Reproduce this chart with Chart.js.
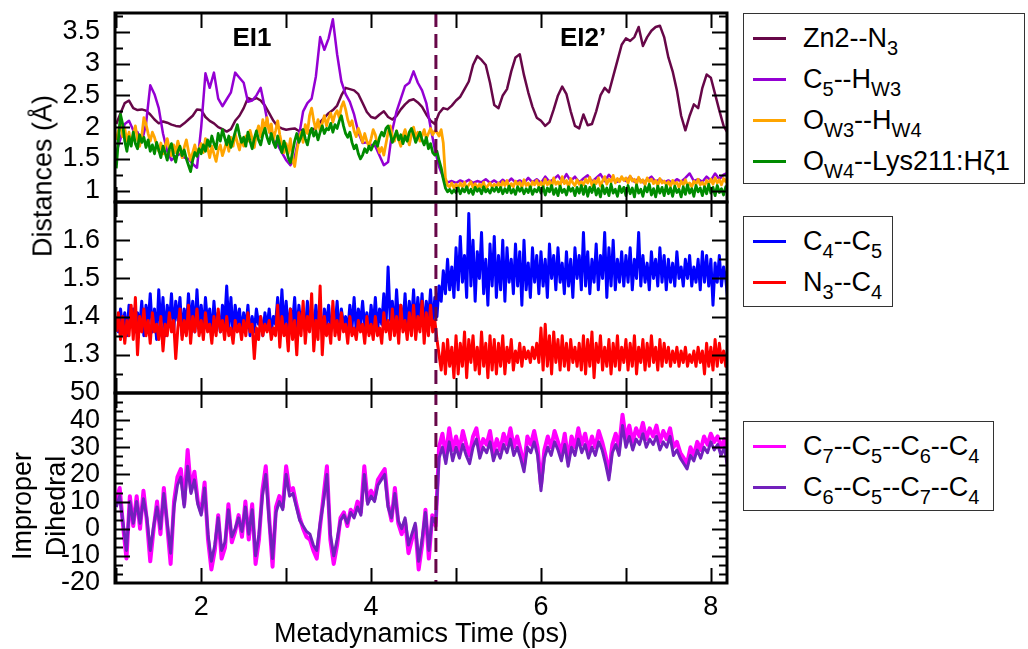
<!DOCTYPE html>
<html>
<head>
<meta charset="utf-8">
<script src="https://cdn.jsdelivr.net/npm/chart.js@4.4.1/dist/chart.umd.min.js"></script>
<style>
  body { margin: 0; background: #fff; }
  #wrap { position: relative; width: 1028px; height: 649px; font-family: "Liberation Sans", Arial, sans-serif; color: #000; overflow: hidden; }
  canvas { position: absolute; left: 0; top: 0; }
  .lbl { position: absolute; white-space: nowrap; font-size: 27px; line-height: 27px; transform: translate(-50%, -50%); }
  .rot { transform: translate(-50%, -50%) rotate(-90deg); }
  .tag { font-weight: bold; font-size: 26px; }
  .legend { position: absolute; left: 743px; border: 1.5px solid #333; box-sizing: border-box; background: #fff; }
  .row { position: absolute; left: 9px; height: 27px; display: flex; align-items: center; white-space: nowrap; }
  .swatch { width: 33px; height: 3px; margin-right: 17px; }
  .txt { font-size: 27px; line-height: 27px; height: 27px; }
  .txt sub { font-size: 20px; line-height: 0; vertical-align: -8px; }
</style>
</head>
<body>
<div id="wrap">
  <canvas id="dist" width="1028" height="649"></canvas>
  <canvas id="bond" width="1028" height="649"></canvas>
  <canvas id="dihedral" width="1028" height="649"></canvas>
  <div class="lbl tag" style="left:252px;top:37px">EI1</div>
  <div class="lbl tag" style="left:583px;top:37px">EI2’</div>
  <div class="lbl rot" style="left:43px;top:176px">Distances (Å)</div>
  <div class="lbl rot" style="left:22px;top:506px">Improper</div>
  <div class="lbl rot" style="left:56px;top:506px">Dihedral</div>
  <div class="lbl" style="left:421px;top:633px">Metadynamics Time (ps)</div>
  <div id="leg1" class="legend" style="top:13px;width:282px;height:171px"></div>
  <div id="leg2" class="legend" style="top:216px;width:150px;height:91px"></div>
  <div id="leg3" class="legend" style="top:421px;width:251px;height:90px"></div>
</div>
<script>
// time axis
const timeMin = 0.985, timeMax = 8.19;
const timeLabels = [2, 4, 6, 8];
const timeMarks = [1, 2, 3, 4, 5, 6, 7, 8];
const transitionTime = 4.763;

// tick values per panel
const distTicks = [1, 1.5, 2, 2.5, 3, 3.5];
const distMinor = [1.25, 1.75, 2.25, 2.75, 3.25, 3.75];
const bondTicks = [1.3, 1.4, 1.5, 1.6];
const bondMinor = [1.25, 1.35, 1.45, 1.55, 1.65];
const dihedralTicks = [-20, -10, 0, 10, 20, 30, 40, 50];

// legend text
const distNames = ['Zn2--N<sub>3</sub>', 'C<sub>5</sub>--H<sub>W3</sub>', 'O<sub>W3</sub>--H<sub>W4</sub>', 'O<sub>W4</sub>--Lys211:Hζ1'];
const bondNames = ['C<sub>4</sub>--C<sub>5</sub>', 'N<sub>3</sub>--C<sub>4</sub>'];
const dihedralNames = ['C<sub>7</sub>--C<sub>5</sub>--C<sub>6</sub>--C<sub>4</sub>', 'C<sub>6</sub>--C<sub>5</sub>--C<sub>7</sub>--C<sub>4</sub>'];

const distColors = ['#670748', '#9400d3', '#ffa500', '#008b00'];
const bondColors = ['#0000ff', '#ff0000'];
const dihedralColors = ['#ff00ff', '#7221bc'];

// Zn2--N3, every 0.05 ps from 1.0 ps
const zn2N3 = [
  2.05, 2.22, 2.38, 2.42, 2.30, 2.27, 2.28, 2.26, 2.20, 2.12,
  2.06, 2.09, 2.07, 2.04, 2.02, 2.01, 2.06, 2.12, 2.18, 2.28,
  2.27, 2.16, 2.10, 2.06, 2.00, 1.97, 1.93, 1.97, 2.10, 2.18,
  2.30, 2.46, 2.43, 2.46, 2.42, 2.34, 2.22, 2.10, 2.01, 1.98,
  1.96, 1.97, 1.98, 1.94, 1.96, 1.95, 1.94, 2.00, 2.08, 2.15,
  2.22, 2.27, 2.34, 2.50, 2.62, 2.60, 2.58, 2.52, 2.38, 2.24,
  2.16, 2.14, 2.20, 2.25, 2.16, 2.12, 2.18, 2.28, 2.36, 2.42,
  2.44, 2.39, 2.32, 2.20, 2.10, 2.05, 2.22, 2.30, 2.28, 2.34,
  2.42, 2.48, 2.60, 2.72, 2.98, 3.12, 3.06, 2.98, 2.70, 2.35,
  2.30, 2.50, 2.60, 2.88, 3.10, 3.15, 2.82, 2.55, 2.32, 2.15,
  2.10, 2.02, 2.08, 2.28, 2.50, 2.64, 2.52, 2.25, 2.02, 1.98,
  2.20, 2.03, 2.05, 2.25, 2.50, 2.62, 2.55, 2.80, 3.05, 3.30,
  3.40, 3.36, 3.42, 3.58, 3.28, 3.42, 3.52, 3.58, 3.60, 3.42,
  3.10, 2.88, 2.58, 2.18, 1.95, 2.18, 2.36, 2.30, 2.62, 2.83,
  2.78, 2.52, 2.26, 2.02, 1.90
];

// C5--HW3, every 0.05 ps
const c5Hw3 = [
  1.60, 1.82, 2.05, 2.10, 1.95, 1.92, 1.76, 2.05, 2.66, 2.52,
  2.30, 1.90, 1.62, 1.48, 1.54, 1.58, 1.52, 1.50, 1.42, 1.36,
  2.00, 2.85, 2.62, 2.86, 2.45, 2.33, 2.44, 2.55, 2.86, 2.78,
  2.70, 2.40, 2.42, 2.50, 2.62, 2.30, 1.95, 1.80, 1.72, 1.60,
  1.48, 1.40, 1.52, 1.85, 2.25, 2.38, 2.45, 2.80, 3.42, 3.22,
  3.40, 3.70, 3.15, 2.72, 2.52, 2.40, 2.20, 1.92, 1.75, 1.76,
  1.72, 1.70, 1.55, 1.40, 1.45, 1.95, 2.25, 2.45, 2.65, 2.70,
  2.88, 2.70, 2.58, 2.38, 2.00, 1.65, 1.38, 1.20, 1.13, 1.15,
  1.12, 1.16, 1.13, 1.17, 1.12, 1.15, 1.13, 1.18, 1.12, 1.16,
  1.11, 1.17, 1.12, 1.19, 1.13, 1.16, 1.12, 1.20, 1.13, 1.18,
  1.12, 1.22, 1.14, 1.18, 1.24, 1.14, 1.26, 1.15, 1.22, 1.13,
  1.19, 1.24, 1.14, 1.20, 1.26, 1.15, 1.25, 1.17, 1.14, 1.20,
  1.15, 1.22, 1.14, 1.19, 1.13, 1.17, 1.22, 1.14, 1.18, 1.13,
  1.16, 1.12, 1.18, 1.14, 1.20, 1.27, 1.15, 1.18, 1.14, 1.22,
  1.16, 1.27, 1.18, 1.25, 1.28
];

// OW3--HW4, every 0.025 ps
const ow3Hw4 = [
  1.80, 1.95, 2.05, 1.85, 1.98, 1.78, 1.92, 1.72, 1.88, 2.02, 1.80, 1.70, 1.86, 2.15, 2.05, 1.90, 1.78, 1.92, 1.84, 1.72,
  1.62, 1.75, 1.58, 1.70, 1.82, 1.65, 1.55, 1.72, 1.60, 1.78, 1.66, 1.52, 1.68, 1.80, 1.62, 1.48, 1.60, 1.72, 1.56, 1.66,
  1.74, 1.60, 1.82, 1.68, 1.52, 1.70, 1.58, 1.46, 1.64, 1.72, 1.55, 1.66, 1.78, 1.62, 1.84, 1.70, 1.90, 1.76, 1.64, 1.82,
  1.70, 1.86, 1.78, 1.95, 1.82, 1.68, 1.90, 2.02, 1.85, 2.12, 1.96, 2.15, 1.92, 2.05, 1.80, 1.94, 2.10, 1.88, 1.72, 1.60,
  1.74, 1.58, 1.82, 1.50, 1.38, 1.62, 1.80, 1.92, 1.76, 2.04, 1.90, 2.18, 2.30, 2.10, 1.96, 2.12, 1.94, 2.06, 2.18, 2.02,
  2.14, 2.22, 2.08, 2.20, 2.26, 2.15, 2.32, 2.40, 2.28, 2.12, 2.02, 2.10, 1.94, 1.85, 1.98, 1.88, 1.76, 1.90, 1.78, 1.70,
  1.82, 1.96, 1.88, 1.72, 1.60, 1.68, 1.56, 1.74, 1.92, 2.02, 1.86, 1.78, 1.94, 1.80, 1.70, 1.86, 1.96, 1.84, 1.72, 1.88,
  2.00, 1.84, 1.92, 1.78, 1.86, 1.96, 1.82, 1.90, 1.98, 1.88, 1.94, 1.92, 1.86, 1.96, 1.75, 1.20, 1.08, 1.06, 1.12, 1.04,
  1.10, 1.04, 1.12, 1.06, 1.13, 1.03, 1.09, 1.14, 1.05, 1.11, 1.04, 1.10, 1.06, 1.13, 1.02, 1.08, 1.12, 1.05, 1.10, 1.07,
  1.12, 1.05, 1.14, 1.08, 1.16, 1.04, 1.11, 1.06, 1.15, 1.09, 1.13, 1.05, 1.17, 1.08, 1.12, 1.04, 1.14, 1.09, 1.16, 1.07,
  1.13, 1.06, 1.18, 1.09, 1.15, 1.05, 1.20, 1.10, 1.14, 1.07, 1.22, 1.11, 1.16, 1.06, 1.19, 1.12, 1.08, 1.17, 1.10, 1.14,
  1.09, 1.18, 1.12, 1.21, 1.08, 1.16, 1.11, 1.20, 1.07, 1.15, 1.22, 1.10, 1.18, 1.13, 1.24, 1.12, 1.19, 1.14, 1.22, 1.16,
  1.20, 1.12, 1.23, 1.15, 1.18, 1.10, 1.21, 1.13, 1.17, 1.09, 1.20, 1.14, 1.18, 1.11, 1.16, 1.08, 1.19, 1.12, 1.15, 1.09,
  1.14, 1.07, 1.16, 1.10, 1.13, 1.05, 1.15, 1.09, 1.17, 1.08, 1.12, 1.06, 1.15, 1.10, 1.18, 1.09, 1.13, 1.07, 1.16, 1.11,
  1.18, 1.10, 1.20, 1.12, 1.17, 1.09, 1.19, 1.14, 1.21
];

// OW4--Lys211:Hz1, every 0.025 ps
const ow4Lys = [
  1.35, 1.80, 2.20, 2.05, 1.78, 1.62, 1.85, 1.70, 1.92, 1.74, 1.66, 1.88, 1.76, 1.84, 1.68, 1.80, 1.62, 1.72, 1.58, 1.76,
  1.64, 1.52, 1.70, 1.60, 1.48, 1.66, 1.74, 1.56, 1.45, 1.62, 1.70, 1.55, 1.64, 1.50, 1.40, 1.30, 1.48, 1.60, 1.54, 1.66,
  1.58, 1.72, 1.62, 1.80, 1.70, 1.86, 1.74, 1.66, 1.90, 1.78, 1.96, 1.84, 1.72, 1.86, 1.68, 1.80, 1.92, 2.04, 1.88, 1.76,
  1.84, 1.70, 1.92, 1.78, 1.66, 1.82, 1.94, 1.80, 1.72, 1.88, 1.98, 1.84, 1.74, 1.90, 1.76, 1.68, 1.86, 1.72, 1.60, 1.78,
  1.66, 1.52, 1.44, 1.60, 1.78, 1.90, 1.76, 1.84, 1.96, 1.82, 1.72, 1.88, 1.98, 1.86, 1.94, 1.80, 1.92, 2.02, 1.90, 1.98,
  1.96, 2.06, 1.92, 2.04, 1.98, 2.10, 2.18, 2.02, 1.90, 1.84, 1.92, 1.76, 1.66, 1.72, 1.58, 1.50, 1.56, 1.66, 1.60, 1.70,
  1.64, 1.72, 1.78, 1.70, 1.84, 1.92, 1.86, 1.98, 2.02, 1.90, 1.76, 1.84, 1.94, 1.80, 1.88, 1.74, 1.86, 1.78, 1.92, 1.98,
  1.88, 1.76, 1.84, 1.92, 1.80, 1.72, 1.84, 1.66, 1.74, 1.60, 1.56, 1.62, 1.48, 1.36, 1.18, 1.04, 0.98, 1.02, 0.96, 1.01,
  0.97, 1.04, 0.95, 1.03, 0.98, 1.06, 0.96, 1.02, 0.94, 1.05, 0.99, 1.03, 0.95, 1.06, 0.98, 1.02, 0.96, 1.04, 0.99, 1.05,
  0.98, 1.05, 0.95, 1.03, 0.97, 1.07, 0.96, 1.02, 0.94, 1.06, 0.99, 1.04, 0.95, 1.03, 0.97, 1.06, 0.94, 1.02, 0.98, 1.05,
  0.96, 1.06, 0.93, 1.04, 0.98, 1.08, 0.94, 1.03, 0.92, 1.07, 0.97, 1.02, 0.93, 1.06, 0.99, 1.04, 0.92, 1.05, 0.96, 1.08,
  0.94, 1.07, 0.91, 1.05, 0.97, 1.09, 0.93, 1.03, 0.90, 1.08, 0.95, 1.04, 0.92, 1.10, 0.96, 1.02, 0.91, 1.07, 0.97, 1.05,
  0.92, 1.08, 0.95, 1.04, 0.90, 1.09, 0.96, 1.02, 0.91, 1.06, 0.98, 1.10, 0.93, 1.03, 0.90, 1.07, 0.96, 1.05, 0.92, 1.08,
  0.95, 1.04, 0.91, 1.07, 0.97, 1.02, 0.90, 1.06, 0.94, 1.09, 0.96, 1.03, 0.91, 1.08, 0.98, 1.04, 0.92, 1.06, 0.95, 1.10,
  0.96, 1.05, 0.92, 1.08, 0.97, 1.03, 0.93, 1.06, 1.00
];

// C4--C5 bond, every 0.025 ps
const c4C5 = [
  1.40, 1.36, 1.42, 1.37, 1.41, 1.35, 1.43, 1.38, 1.42, 1.36, 1.41, 1.37, 1.44, 1.35, 1.43, 1.38, 1.46, 1.36, 1.42, 1.34,
  1.47, 1.37, 1.45, 1.35, 1.43, 1.38, 1.46, 1.36, 1.44, 1.39, 1.45, 1.35, 1.42, 1.37, 1.46, 1.38, 1.44, 1.36, 1.47, 1.37,
  1.43, 1.36, 1.45, 1.38, 1.42, 1.35, 1.44, 1.37, 1.41, 1.36, 1.43, 1.38, 1.48, 1.37, 1.45, 1.35, 1.43, 1.38, 1.42, 1.36,
  1.41, 1.37, 1.43, 1.35, 1.40, 1.36, 1.42, 1.38, 1.40, 1.35, 1.41, 1.37, 1.42, 1.36, 1.40, 1.38, 1.45, 1.36, 1.47, 1.37,
  1.44, 1.36, 1.42, 1.38, 1.45, 1.35, 1.43, 1.37, 1.41, 1.36, 1.44, 1.38, 1.42, 1.35, 1.43, 1.37, 1.41, 1.36, 1.42, 1.38,
  1.43, 1.36, 1.41, 1.37, 1.44, 1.35, 1.42, 1.38, 1.40, 1.36, 1.43, 1.37, 1.45, 1.36, 1.42, 1.38, 1.44, 1.37, 1.41, 1.36,
  1.43, 1.37, 1.45, 1.36, 1.42, 1.38, 1.46, 1.37, 1.53, 1.39, 1.44, 1.36, 1.47, 1.38, 1.43, 1.37, 1.46, 1.36, 1.44, 1.38,
  1.47, 1.37, 1.45, 1.38, 1.46, 1.36, 1.44, 1.39, 1.47, 1.37, 1.45, 1.40, 1.48, 1.44, 1.52, 1.46, 1.55, 1.47, 1.53, 1.45,
  1.58, 1.47, 1.61, 1.49, 1.56, 1.45, 1.67, 1.48, 1.60, 1.44, 1.57, 1.50, 1.62, 1.46, 1.55, 1.43, 1.59, 1.48, 1.61, 1.45,
  1.56, 1.47, 1.60, 1.44, 1.58, 1.49, 1.55, 1.46, 1.59, 1.48, 1.57, 1.43, 1.60, 1.47, 1.54, 1.45, 1.58, 1.49, 1.56, 1.46,
  1.57, 1.48, 1.55, 1.45, 1.59, 1.50, 1.56, 1.47, 1.58, 1.49, 1.54, 1.46, 1.57, 1.48, 1.55, 1.45, 1.58, 1.50, 1.56, 1.47,
  1.62, 1.48, 1.57, 1.46, 1.55, 1.49, 1.59, 1.47, 1.56, 1.50, 1.62, 1.45, 1.58, 1.48, 1.60, 1.47, 1.55, 1.49, 1.57, 1.48,
  1.56, 1.49, 1.58, 1.47, 1.55, 1.50, 1.62, 1.48, 1.56, 1.49, 1.54, 1.47, 1.57, 1.50, 1.55, 1.48, 1.58, 1.49, 1.56, 1.47,
  1.55, 1.49, 1.54, 1.48, 1.57, 1.50, 1.53, 1.48, 1.55, 1.50, 1.56, 1.48, 1.53, 1.49, 1.55, 1.47, 1.57, 1.49, 1.56, 1.48,
  1.55, 1.43, 1.54, 1.49, 1.56, 1.48, 1.53, 1.50, 1.44
];

// N3--C4 bond, every 0.025 ps
const n3C4 = [
  1.36, 1.41, 1.34, 1.40, 1.33, 1.39, 1.35, 1.43, 1.34, 1.45, 1.30, 1.40, 1.36, 1.42, 1.35, 1.39, 1.33, 1.41, 1.36, 1.38,
  1.34, 1.40, 1.31, 1.38, 1.35, 1.41, 1.36, 1.39, 1.29, 1.37, 1.42, 1.34, 1.39, 1.35, 1.43, 1.33, 1.40, 1.36, 1.42, 1.35,
  1.39, 1.34, 1.41, 1.36, 1.38, 1.33, 1.40, 1.35, 1.42, 1.36, 1.39, 1.34, 1.40, 1.35, 1.37, 1.33, 1.39, 1.36, 1.38, 1.34,
  1.39, 1.35, 1.41, 1.36, 1.38, 1.29, 1.37, 1.34, 1.40, 1.35, 1.38, 1.36, 1.39, 1.34, 1.37, 1.35, 1.43, 1.32, 1.40, 1.35,
  1.38, 1.31, 1.42, 1.34, 1.39, 1.30, 1.41, 1.35, 1.44, 1.33, 1.40, 1.36, 1.46, 1.31, 1.39, 1.34, 1.48, 1.30, 1.40, 1.35,
  1.38, 1.33, 1.44, 1.35, 1.39, 1.34, 1.41, 1.36, 1.38, 1.33, 1.40, 1.35, 1.37, 1.34, 1.39, 1.36, 1.38, 1.33, 1.40, 1.35,
  1.38, 1.34, 1.40, 1.35, 1.37, 1.33, 1.41, 1.36, 1.39, 1.34, 1.42, 1.35, 1.40, 1.33, 1.43, 1.36, 1.39, 1.34, 1.41, 1.35,
  1.43, 1.34, 1.40, 1.36, 1.44, 1.33, 1.41, 1.35, 1.43, 1.36, 1.39, 1.34, 1.30, 1.26, 1.33, 1.25, 1.34, 1.27, 1.32, 1.24,
  1.35, 1.25, 1.33, 1.27, 1.36, 1.24, 1.34, 1.28, 1.35, 1.26, 1.32, 1.25, 1.36, 1.27, 1.33, 1.24, 1.35, 1.26, 1.34, 1.25,
  1.33, 1.27, 1.35, 1.25, 1.32, 1.28, 1.34, 1.26, 1.31, 1.28, 1.33, 1.27, 1.32, 1.29, 1.31, 1.28, 1.32, 1.29, 1.33, 1.28,
  1.37, 1.26, 1.38, 1.27, 1.35, 1.25, 1.36, 1.28, 1.34, 1.26, 1.35, 1.27, 1.33, 1.26, 1.34, 1.28, 1.32, 1.27, 1.33, 1.26,
  1.35, 1.25, 1.34, 1.27, 1.36, 1.24, 1.33, 1.28, 1.35, 1.26, 1.32, 1.27, 1.34, 1.25, 1.33, 1.27, 1.35, 1.26, 1.32, 1.28,
  1.34, 1.26, 1.33, 1.27, 1.35, 1.25, 1.32, 1.28, 1.34, 1.26, 1.33, 1.27, 1.35, 1.28, 1.32, 1.26, 1.34, 1.27, 1.33, 1.28,
  1.32, 1.27, 1.31, 1.28, 1.32, 1.27, 1.31, 1.28, 1.32, 1.27, 1.30, 1.28, 1.31, 1.27, 1.32, 1.28, 1.31, 1.25, 1.33, 1.27,
  1.32, 1.26, 1.34, 1.27, 1.33, 1.28, 1.31, 1.27, 1.32
];

// improper dihedrals in degrees, every 0.04 ps
const dihC7C5C6C4 = [
  10, 15, 1, -11, 12, 1, 12, 0, 14, 3, -12, 0, 10, -2, 15, 1, -13, 10, 19, 22, 9, 29, 14, 21, 10,
  6, 17, -4, -15, -8, 5, -11, -7, 9, -5, -1, 5, -3, 10, -4, 9, -13, -4, 14, 23, 4, -14, 8, 12, 8,
  23, 14, 15, 9, 4, 0, -3, -4, -8, -11, 1, 12, 23, -4, -13, -6, 4, 6, 1, 7, 5, 10, 6, 23, 10,
  14, 11, 18, 20, 22, 9, 3, 15, 2, -2, 3, -9, -4, 1, -15, -6, 7, -11, 5, 1, 30, 35, 27, 37, 29,
  34, 29, 36, 31, 27, 34, 37, 29, 33, 31, 36, 28, 33, 29, 35, 31, 37, 30, 34, 29, 23, 34, 31, 36, 30,
  16, 29, 34, 30, 36, 32, 28, 35, 25, 34, 30, 37, 31, 35, 29, 34, 30, 36, 32, 27, 20, 31, 35, 30, 42,
  33, 38, 32, 37, 34, 39, 33, 37, 34, 38, 32, 36, 33, 37, 30, 32, 28, 26, 24, 30, 27, 32, 29, 34, 31,
  35, 32, 34, 30, 33, 24
];
const dihC6C5C7C4 = [
  8, 12, 2, -8, 10, 2, 10, 2, 11, 4, -8, 1, 8, 0, 13, 2, -9, 8, 16, 19, 8, 23, 13, 18, 9,
  5, 15, -2, -12, -6, 4, -8, -5, 7, -3, 0, 4, -1, 8, -2, 7, -10, -2, 12, 20, 3, -11, 6, 10, 7,
  20, 12, 13, 8, 3, 1, -1, -2, -6, -8, 2, 10, 20, -2, -10, -4, 3, 5, 2, 6, 4, 8, 5, 20, 9,
  12, 10, 16, 18, 20, 8, 4, 13, 3, 0, 4, -6, -2, 2, -12, -4, 6, -8, 4, 2, 26, 30, 24, 32, 25,
  30, 26, 31, 27, 24, 30, 33, 26, 30, 28, 32, 25, 29, 26, 31, 28, 33, 27, 30, 26, 21, 30, 28, 32, 27,
  14, 26, 30, 27, 32, 29, 25, 31, 23, 30, 27, 33, 28, 31, 26, 30, 27, 32, 29, 24, 18, 28, 31, 27, 38,
  30, 34, 29, 33, 31, 35, 30, 33, 31, 34, 29, 32, 30, 34, 27, 29, 26, 24, 22, 27, 25, 29, 26, 30, 28,
  32, 29, 31, 27, 30, 22
];

// pair each value with its time
function timed(values, dt) {
  return values.map((v, i) => ({ x: +(1 + i * dt).toFixed(3), y: v }));
}

const tickFont = { family: 'Liberation Sans', size: 27 };

// box frame, inward ticks and the dashed EI1/EI2' boundary
const framePlugin = {
  id: 'frame',
  afterDatasetsDraw(chart, args, opts) {
    const { ctx, chartArea: a } = chart;
    const xs = chart.scales.x, ys = chart.scales.y;
    ctx.save();
    const xb = xs.getPixelForValue(transitionTime);
    ctx.strokeStyle = '#670748';
    ctx.lineWidth = 3;
    ctx.setLineDash([14, 7]);
    ctx.lineDashOffset = a.top - 13;
    ctx.beginPath();
    ctx.moveTo(xb, a.top);
    ctx.lineTo(xb, a.bottom);
    ctx.stroke();
    ctx.setLineDash([]);

    ctx.strokeStyle = '#000';
    ctx.lineWidth = 2;
    const tick = (v, len) => {
      const y = Math.round(ys.getPixelForValue(v)) + 0.5;
      if (y < a.top + 2 || y > a.bottom - 2) return;
      ctx.beginPath();
      ctx.moveTo(a.left, y); ctx.lineTo(a.left + len, y);
      ctx.moveTo(a.right, y); ctx.lineTo(a.right - len, y);
      ctx.stroke();
    };
    opts.major.forEach(v => tick(v, 15));
    opts.minor.forEach(v => tick(v, 8));
    timeMarks.forEach(t => {
      const x = Math.round(xs.getPixelForValue(t)) + 0.5;
      ctx.beginPath();
      ctx.moveTo(x, a.top); ctx.lineTo(x, a.top + 15);
      ctx.moveTo(x, a.bottom); ctx.lineTo(x, a.bottom - 15);
      ctx.stroke();
    });
    ctx.lineWidth = 3;
    ctx.strokeRect(a.left, a.top, a.width, a.height);
    ctx.restore();
  }
};

function panel(id, cfg) {
  return new Chart(document.getElementById(id), {
    type: 'line',
    data: { datasets: cfg.datasets },
    options: {
      responsive: false,
      animation: false,
      events: [],
      layout: { padding: { left: 0, right: 301, top: cfg.top, bottom: cfg.bottom } },
      elements: { point: { radius: 0 }, line: { tension: 0, borderJoinStyle: 'round' } },
      plugins: {
        legend: { display: false },
        tooltip: { enabled: false },
        frame: { major: cfg.major, minor: cfg.minor }
      },
      scales: {
        x: {
          type: 'linear', min: timeMin, max: timeMax, display: cfg.showTime,
          grid: { display: false }, border: { display: false },
          afterBuildTicks: s => { s.ticks = timeLabels.map(v => ({ value: v })); },
          afterFit: s => { s.height = cfg.showTime ? 66 : 0; s.paddingLeft = 0; s.paddingRight = 0; },
          ticks: { font: tickFont, color: '#000', padding: 0, maxRotation: 0, autoSkip: false, callback: v => String(v) }
        },
        y: {
          min: cfg.min, max: cfg.max,
          grid: { display: false }, border: { display: false },
          afterBuildTicks: s => { s.ticks = cfg.major.map(v => ({ value: v })); },
          afterFit: s => { s.width = 115; s.paddingTop = 0; s.paddingBottom = 0; },
          ticks: { font: tickFont, color: '#000', padding: 7, autoSkip: false, callback: v => String(v) }
        }
      }
    },
    plugins: [framePlugin]
  });
}

const line = (data, color, width, order) => ({ data, borderColor: color, borderWidth: width, order, fill: false });

panel('dist', {
  top: 13, bottom: 447, min: 0.82, max: 3.8, major: distTicks, minor: distMinor, showTime: false,
  datasets: [
    line(timed(zn2N3, 0.05), distColors[0], 2.5, 4),
    line(timed(c5Hw3, 0.05), distColors[1], 2.5, 3),
    line(timed(ow3Hw4, 0.025), distColors[2], 2.8, 2),
    line(timed(ow4Lys, 0.025), distColors[3], 2.8, 1)
  ]
});

panel('bond', {
  top: 202, bottom: 256, min: 1.2, max: 1.7, major: bondTicks, minor: bondMinor, showTime: false,
  datasets: [
    line(timed(c4C5, 0.025), bondColors[0], 3, 2),
    line(timed(n3C4, 0.025), bondColors[1], 3, 1)
  ]
});

// minor ticks split each 10 degree step in three
const dihedralMinor = [];
for (let i = 0; i < dihedralTicks.length - 1; i++) {
  const a = dihedralTicks[i], b = dihedralTicks[i + 1];
  dihedralMinor.push(a + (b - a) / 3, a + 2 * (b - a) / 3);
}

panel('dihedral', {
  top: 393, bottom: 0, min: -20, max: 50, major: dihedralTicks, minor: dihedralMinor, showTime: true,
  datasets: [
    line(timed(dihC7C5C6C4, 0.04), dihedralColors[0], 4, 2),
    line(timed(dihC6C5C7C4, 0.04), dihedralColors[1], 3, 1)
  ]
});

// legends
function legend(id, names, colors) {
  const box = document.getElementById(id);
  names.forEach((name, i) => {
    const row = document.createElement('div');
    row.className = 'row';
    row.style.top = (24.5 + 41 * i - 13.5) + 'px';
    row.innerHTML = '<span class="swatch" style="background:' + colors[i] + '"></span><span class="txt">' + name + '</span>';
    box.appendChild(row);
  });
}
legend('leg1', distNames, distColors);
legend('leg2', bondNames, bondColors);
legend('leg3', dihedralNames, dihedralColors);
</script>
</body>
</html>
